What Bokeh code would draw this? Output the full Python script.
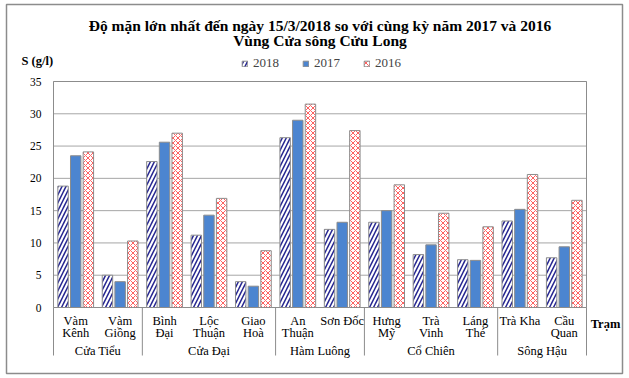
import numpy as np
from bokeh.plotting import figure
from bokeh.models import ColumnDataSource, Range1d, Legend, LegendItem
from bokeh.embed import file_html
from bokeh.resources import INLINE
from bokeh.core.properties import value

# ---------------- data ----------------
stations = ["Vàm\nKênh", "Vàm\nGiồng", "Bình\nĐại", "Lộc\nThuận", "Giao\nHoà",
            "An\nThuận", "Sơn Đốc", "Hưng\nMỹ", "Trà\nVinh", "Láng\nThé",
            "Trà Kha", "Cầu\nQuan"]
groups = ["Cửa Tiểu", "Cửa Đại", "Hàm Luông", "Cổ Chiên", "Sông Hậu"]
group_sizes = [2, 3, 2, 3, 2]
years = ["2018", "2017", "2016"]
s2018 = [18.8, 5.0, 22.6, 11.2, 4.0, 26.3, 12.1, 13.2, 8.2, 7.4, 13.4, 7.7]
s2017 = [23.5, 4.0, 25.6, 14.3, 3.3, 29.0, 13.2, 15.0, 9.7, 7.3, 15.2, 9.4]
s2016 = [24.1, 10.3, 27.0, 16.9, 8.8, 31.5, 27.4, 19.0, 14.6, 12.5, 20.6, 16.6]
y_ticks = [0, 5, 10, 15, 20, 25, 30, 35]
title1 = "Độ mặn lớn nhất đến ngày 15/3/2018 so với cùng kỳ năm 2017 và 2016"
title2 = "Vùng Cửa sông Cửu Long"
y_title = "S (g/l)"
x_title = "Trạm"

FONT = "Liberation Serif"
SERIF = value(FONT)
GRAY = "#8c8c8c"
W, H = 628, 377

n = len(stations)
ymax = y_ticks[-1]
# plot area in pixels: left 53, right 586, top 81, bottom 307
PXU = (586 - 53) / n
PYU = (307 - 81) / ymax
def X(px):
    return (px - 53) / PXU
def Y(py):
    return (307 - py) / PYU

p = figure(width=W, height=H, x_range=Range1d(X(0), X(W)), y_range=Range1d(Y(H), Y(0)),
           output_backend="svg", toolbar_location=None,
           x_axis_location=None, y_axis_location=None,
           min_border=0, min_border_left=0, min_border_right=0,
           min_border_top=0, min_border_bottom=0)
p.title.visible = False
p.grid.visible = False
p.outline_line_color = None
p.background_fill_color = "white"
p.border_fill_color = "white"

# outer chart border
p.quad(left=[X(6)], right=[X(622)], bottom=[Y(373)], top=[Y(4)],
       fill_color=None, line_color=GRAY, line_width=1.5)

# horizontal gridlines at the y ticks
p.segment(x0=[0] * len(y_ticks), x1=[n] * len(y_ticks), y0=y_ticks, y1=y_ticks,
          line_color="#a6a6a6", line_width=1)
# plot-area box
p.quad(left=[0], right=[n], bottom=[0], top=[ymax], fill_color=None,
       line_color=GRAY, line_width=1)

# y tick labels
p.text(x=[X(41)] * len(y_ticks), y=y_ticks, text=[str(t) for t in y_ticks],
       text_align="right", text_baseline="middle", text_font=SERIF,
       text_font_size="11.5px", text_color="black")

xc = np.arange(n) + 0.5
off, w = 0.285, 0.235
src = ColumnDataSource(dict(x18=xc - off, x17=xc, x16=xc + off,
                            s2018=s2018, s2017=s2017, s2016=s2016))
r18 = p.vbar(x="x18", top="s2018", width=w, source=src, fill_color="white",
             line_color=GRAY, hatch_pattern="right_diagonal_line", hatch_color="#23238f",
             hatch_scale=8, hatch_weight=1.5)
r17 = p.vbar(x="x17", top="s2017", width=w, source=src, fill_color="#4c85d0",
             line_color=GRAY)
r16 = p.vbar(x="x16", top="s2016", width=w, source=src, fill_color="white",
             line_color=GRAY, hatch_pattern="diagonal_cross", hatch_color="#ff6060",
             hatch_scale=5, hatch_weight=1)

# category labels (two lines)
line1 = [s.split("\n")[0] for s in stations]
line2 = [s.split("\n")[1] if "\n" in s else "" for s in stations]
p.text(x=xc, y=[Y(320)] * n, text=line1, text_align="center", text_baseline="middle",
       text_font=SERIF, text_font_size="12.5px", text_color="black")
p.text(x=xc, y=[Y(332)] * n, text=line2, text_align="center", text_baseline="middle",
       text_font=SERIF, text_font_size="12.5px", text_color="black")

# group labels and separators
bounds = np.concatenate([[0], np.cumsum(group_sizes)]).astype(float)
gcent = (bounds[:-1] + bounds[1:]) / 2
p.text(x=gcent, y=[Y(350)] * len(groups), text=groups, text_align="center",
       text_baseline="middle", text_font=SERIF, text_font_size="12.5px", text_color="black")
p.segment(x0=bounds, x1=bounds, y0=[0] * len(bounds), y1=[Y(355)] * len(bounds),
          line_color=GRAY, line_width=1)

# titles
p.text(x=[n / 2, n / 2], y=[Y(25), Y(40)], text=[title1, title2], text_align="center",
       text_baseline="middle", text_font=SERIF, text_font_size="15.5px",
       text_font_style="bold", text_color="black")
p.text(x=[X(21)], y=[Y(60)], text=[y_title], text_align="left", text_baseline="middle",
       text_font=SERIF, text_font_size="12.5px", text_font_style="bold", text_color="black")
p.text(x=[X(605)], y=[Y(323)], text=[x_title], text_align="center", text_baseline="middle",
       text_font=SERIF, text_font_size="12.5px", text_font_style="bold", text_color="black")

legend = Legend(items=[LegendItem(label=years[0], renderers=[r18]),
                       LegendItem(label=years[1], renderers=[r17]),
                       LegendItem(label=years[2], renderers=[r16])],
                orientation="horizontal", location=(241, H - 64 - 7),
                glyph_width=7, glyph_height=7, label_height=14, label_standoff=5,
                label_text_font=FONT, label_text_font_size="13px",
                spacing=23, padding=0, margin=0, border_line_color=None,
                background_fill_alpha=0)
p.add_layout(legend)

open("out.html", "w").write(file_html(p, INLINE))
